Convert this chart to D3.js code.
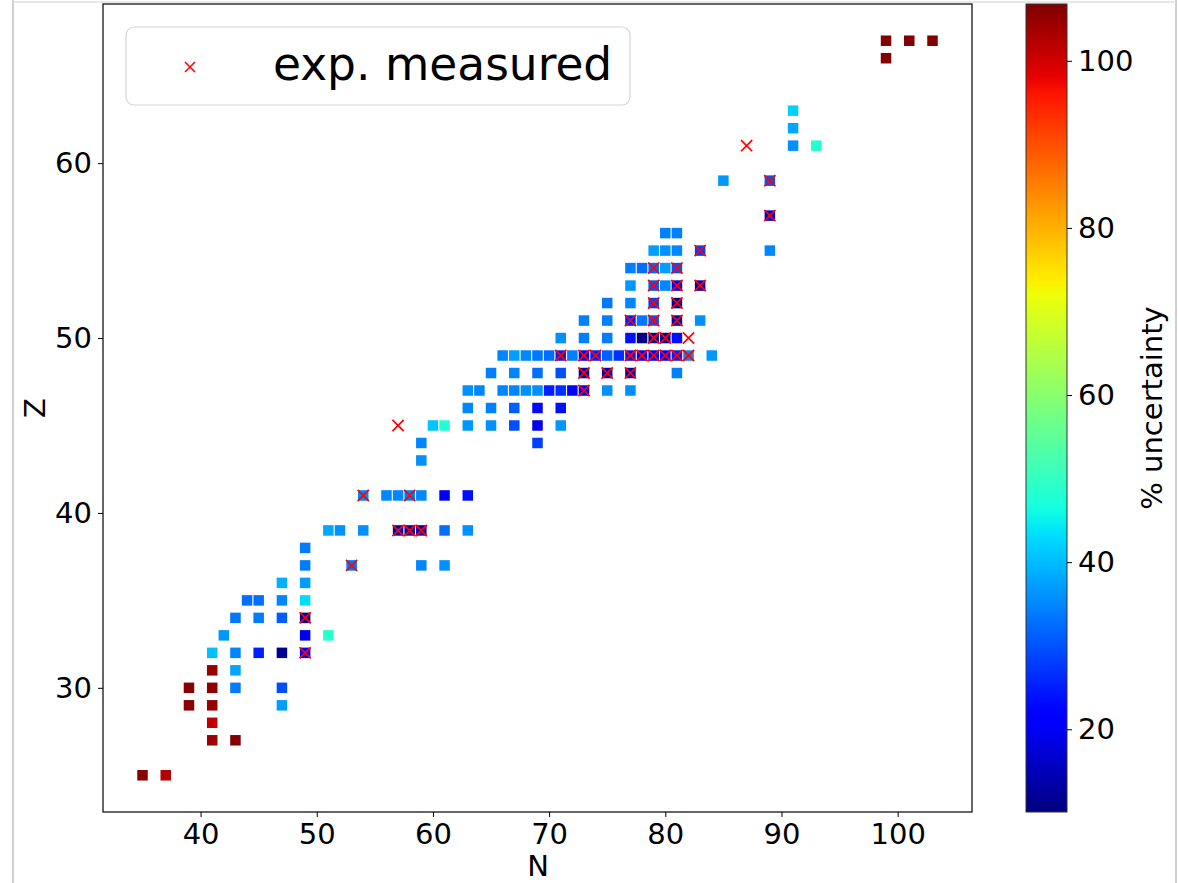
<!DOCTYPE html>
<html>
<head>
<meta charset="utf-8">
<script src="https://cdn.jsdelivr.net/npm/d3@7"></script>
<style>
  html, body { margin: 0; padding: 0; background: #fff; }
  svg { display: block; font-family: "DejaVu Sans", sans-serif; }
</style>
</head>
<body>
<svg id="chart" width="1178" height="883"></svg>
<script>
// ---- Data ----
const nucN = [35,37,39,39,41,41,41,41,41,41,42,43,43,43,43,43,44,45,45,45,47,47,47,47,47,47,
  49,49,49,49,49,49,49,51,51,52,53,54,54,56,57,57,58,58,59,59,59,59,59,60,61,61,61,61,
  63,63,63,63,63,64,65,65,65,66,66,67,67,67,67,67,68,68,69,69,69,69,69,69,70,70,
  71,71,71,71,71,71,72,72,73,73,73,73,73,74,75,75,75,75,75,75,76,
  77,77,77,77,77,77,77,77,78,78,78,78,79,79,79,79,79,79,79,80,80,80,80,80,80,
  81,81,81,81,81,81,81,81,81,82,83,83,83,84,85,89,89,89,91,91,91,93,99,99,101,103];
const nucZ = [25,25,30,29,32,31,30,29,28,27,33,34,32,31,30,27,35,35,34,32,36,35,34,32,30,29,
  38,37,36,35,34,33,32,39,33,39,37,41,39,41,41,39,41,39,44,43,41,39,37,45,45,41,39,37,
  47,46,45,41,39,47,48,46,45,49,47,49,48,47,46,45,49,47,49,48,47,46,45,44,49,47,
  50,49,48,47,46,45,49,47,51,50,49,48,47,49,52,51,50,49,48,47,49,
  54,53,52,51,50,49,48,47,54,51,50,49,55,54,53,52,51,50,49,56,55,54,53,50,49,
  56,55,54,53,52,51,50,49,48,49,55,53,51,49,59,59,57,55,63,62,61,61,67,66,67,67];
const uncertainty = [106,102.5,106,106,40.5,105,105.5,105,101.5,104.5,36.6,33.5,35,38,34,106.8,32.7,32.7,34,25,39,35,31,12,29.7,37.3,
  34,34,37,43,12,19.6,21,38,48.7,35.8,33,35,35.8,35,35,15,34,14,35,35.8,35,15,35,41,48,19.6,32.7,35.8,
  35.8,35,36.6,23.6,35.8,35,34.2,34.2,35.8,35,35,37.3,35,35,31.2,29.7,35,35.8,33.5,32.7,35.8,23,19,28.2,32.7,25,
  35.8,25,29.7,26.7,23.6,36.6,34.2,21,34.2,34.2,22,13,20,25,33.5,34.2,34.2,31.2,14,35.8,26.7,
  34.2,36.6,35,25,23.6,24,14,35.8,32.7,33.5,10.5,22,37.3,32,30,28,30,12,20,34.2,35.8,37.3,35,13,22,
  34.2,35,30,20,12,14,23.6,25,34.2,35,28,15,35.8,36.6,36.6,30,17,35,42,38,35.8,48,106.5,106.5,106.5,106.5];

const expN = [49,49,53,54,57,57,58,59,58,71,73,74,73,73,75,77,77,78,79,80,81,82,79,80,82,
  77,79,81,79,81,79,81,83,79,81,83,87,89,89];
const expZ = [32,34,37,41,45,39,39,39,41,49,49,49,48,47,48,48,49,49,49,49,49,49,50,50,50,
  51,51,51,52,52,53,53,53,54,54,55,61,59,57];

const xTicks = [40,50,60,70,80,90,100];
const yTicks = [30,40,50,60];
const cTicks = [20,40,60,80,100];
const legendLabel = "exp. measured";
const xLabel = "N", yLabel = "Z", cLabel = "% uncertainty";

// ---- jet colormap (matplotlib segment data) ----
function seg(t, pts) {
  for (let i = 1; i < pts.length; i++) {
    if (t <= pts[i][0]) {
      const [x0, y0] = pts[i-1], [x1, y1] = pts[i];
      return y0 + (y1 - y0) * (t - x0) / (x1 - x0);
    }
  }
  return pts[pts.length-1][1];
}
const R = [[0,0],[0.35,0],[0.66,1],[0.89,1],[1,0.5]];
const G = [[0,0],[0.125,0],[0.375,1],[0.64,1],[0.91,0],[1,0]];
const B = [[0,0.5],[0.11,1],[0.34,1],[0.65,0],[1,0]];
function jet(t) {
  t = Math.max(0, Math.min(1, t));
  return d3.rgb(255*seg(t,R), 255*seg(t,G), 255*seg(t,B)).formatHex();
}

const cMin = 10.1, cMax = 106.8;
const cNorm = d3.scaleLinear().domain([cMin, cMax]).range([0, 1]).clamp(true);

// ---- Layout ----
const svg = d3.select("#chart");
const plot = {left: 103, right: 972, top: 4, bottom: 812};
const x = d3.scaleLinear().domain([31.6, 106.4]).range([plot.left, plot.right]);
const y = d3.scaleLinear().domain([22.9, 69.1]).range([plot.bottom, plot.top]);

// page frame
svg.append("rect").attr("width",1178).attr("height",883).attr("fill","#fff");
svg.append("line").attr("x1",13).attr("x2",13).attr("y1",0).attr("y2",883).attr("stroke","#d0d0d0").attr("stroke-width",2);
svg.append("line").attr("x1",1176).attr("x2",1176).attr("y1",0).attr("y2",883).attr("stroke","#d0d0d0").attr("stroke-width",2);
svg.append("line").attr("x1",13).attr("x2",1176).attr("y1",2).attr("y2",2).attr("stroke","#e0e0e0").attr("stroke-width",1.5);

// squares
const sq = 10.5;
const pts = nucN.map((n,i) => ({n, z: nucZ[i], u: uncertainty[i]}));
svg.append("g").selectAll("rect").data(pts).join("rect")
  .attr("x", d => x(d.n) - sq/2)
  .attr("y", d => y(d.z) - sq/2)
  .attr("width", sq).attr("height", sq)
  .attr("fill", d => jet(cNorm(d.u)));

// crosses
const cr = 5.6;
const exps = expN.map((n,i) => ({n, z: expZ[i]}));
const cg = svg.append("g").attr("stroke","#ff0000").attr("stroke-width",1.7).attr("fill","none");
cg.selectAll("path").data(exps).join("path")
  .attr("d", d => {
    const cx = x(d.n), cy = y(d.z);
    return `M${cx-cr},${cy-cr}L${cx+cr},${cy+cr}M${cx-cr},${cy+cr}L${cx+cr},${cy-cr}`;
  });

// axes
const fs = 29;
const xAxis = svg.append("g").attr("transform",`translate(0,${plot.bottom})`)
  .call(d3.axisBottom(x).tickValues(xTicks).tickSize(5).tickPadding(6).tickFormat(d3.format("d")));
const yAxis = svg.append("g").attr("transform",`translate(${plot.left},0)`)
  .call(d3.axisLeft(y).tickValues(yTicks).tickSize(5).tickPadding(6).tickFormat(d3.format("d")));
[xAxis, yAxis].forEach(a => {
  a.select(".domain").remove();
  a.selectAll("text").attr("font-size", fs).attr("font-family","DejaVu Sans").attr("fill","#000");
  a.selectAll("line").attr("stroke","#000").attr("stroke-width",1);
});
// frame
svg.append("rect").attr("x",plot.left).attr("y",plot.top)
  .attr("width",plot.right-plot.left).attr("height",plot.bottom-plot.top)
  .attr("fill","none").attr("stroke","#000").attr("stroke-width",1.2);

svg.append("text").attr("x",(plot.left+plot.right)/2 + 0.5).attr("y",876)
  .attr("text-anchor","middle").attr("font-size",fs).text(xLabel);
svg.append("text").attr("transform",`translate(45,${(plot.top+plot.bottom)/2}) rotate(-90)`)
  .attr("text-anchor","middle").attr("font-size",fs).text(yLabel);

// legend
const lg = svg.append("g");
lg.append("rect").attr("x",126).attr("y",27).attr("width",504).attr("height",78)
  .attr("rx",8).attr("fill","#fff").attr("fill-opacity",0.8).attr("stroke","#d6d6d6").attr("stroke-width",1.2);
const lx = 190, ly = 67, lr = 5;
lg.append("path").attr("d",`M${lx-lr},${ly-lr}L${lx+lr},${ly+lr}M${lx-lr},${ly+lr}L${lx+lr},${ly-lr}`)
  .attr("stroke","#ff0000").attr("stroke-width",1.5);
lg.append("text").attr("x",273).attr("y",80).attr("font-size",45.5).attr("fill","#000").text(legendLabel);

// colorbar
const cb = {left: 1026, right: 1067, top: 4, bottom: 812};
const defs = svg.append("defs");
const grad = defs.append("linearGradient").attr("id","jetgrad")
  .attr("x1",0).attr("y1",1).attr("x2",0).attr("y2",0);
d3.range(0, 1.0001, 0.01).forEach(t => {
  grad.append("stop").attr("offset", t).attr("stop-color", jet(t));
});
svg.append("rect").attr("x",cb.left).attr("y",cb.top).attr("width",cb.right-cb.left)
  .attr("height",cb.bottom-cb.top).attr("fill","url(#jetgrad)");
svg.append("rect").attr("x",cb.left).attr("y",cb.top).attr("width",cb.right-cb.left)
  .attr("height",cb.bottom-cb.top).attr("fill","none").attr("stroke","#333").attr("stroke-width",1);
const cy = d3.scaleLinear().domain([cMin, cMax]).range([cb.bottom, cb.top]);
const cAxis = svg.append("g").attr("transform",`translate(${cb.right},0)`)
  .call(d3.axisRight(cy).tickValues(cTicks).tickSize(5).tickPadding(6).tickFormat(d3.format("d")));
cAxis.select(".domain").remove();
cAxis.selectAll("text").attr("font-size", fs).attr("font-family","DejaVu Sans").attr("fill","#000");
cAxis.selectAll("line").attr("stroke","#000");
svg.append("text").attr("transform",`translate(1162,${(cb.top+cb.bottom)/2}) rotate(-90)`)
  .attr("text-anchor","middle").attr("font-size",fs).text(cLabel);
</script>
</body>
</html>
